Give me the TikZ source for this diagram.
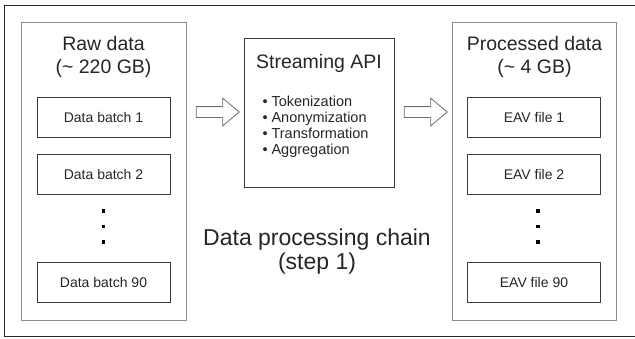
\documentclass[tikz,border=0pt]{standalone}
\usepackage{fontspec}
\setmainfont{Liberation Sans}
\usetikzlibrary{
  shapes.arrows,
  positioning
}
\definecolor{panelgray}{HTML}{8C8C8C}
\definecolor{boxgray}{HTML}{3C3C3C}
\definecolor{arrowgray}{HTML}{6E6E6E}
\definecolor{inkgray}{HTML}{262626}

\begin{document}
\begin{tikzpicture}[
      x=1pt,y=-1pt,
      panel/.style={
         rectangle,
         draw=panelgray,
         line width=1pt,
         minimum width=165pt,
         minimum height=298pt
      },
      batch/.style={
         rectangle,
         draw=boxgray,
         line width=0.9pt,
         minimum width=133pt,
         minimum height=40pt,
         text=inkgray,
         font=\fontsize{14}{16}\selectfont
      },
      apibox/.style={
         rectangle,
         draw=boxgray,
         line width=0.9pt,
         minimum width=150pt,
         minimum height=149pt
      },
      title/.style={
         align=center,
         text=inkgray,
         font=\fontsize{19.5}{23}\selectfont
      },
      flow/.style={
         single arrow,
         draw=arrowgray,
         line width=0.8pt,
         inner xsep=0pt,
         inner ysep=5pt,
         minimum height=43pt,
         single arrow head extend=8.5pt,
         single arrow tip angle=80
      },
      vdot/.style={
         rectangle,
         fill=black,
         inner sep=0pt,
         minimum size=3.5pt
      }
    ]
    \useasboundingbox (0,0) rectangle (635,338);
    % outer frame, open on the right
    \draw[line width=1pt, black!85] (635,5) -- (4,5) -- (4,336) -- (635,336);

    % left panel
    \node (rawpanel) [panel] at (103.5,171) {};
    \node (rawtitle) [title] at (103.5,56.5) {Raw data\\(\textasciitilde{} 220 GB)};
    \node (batch1) [batch] at (103.5,117) {Data batch 1};
    \node (batch2) [batch] at (103.5,174.5) {Data batch 2};
    \node (batch90) [batch] at (103.5,282.5) {Data batch 90};
    \foreach \y [count=\i] in {211,226.5,242}
       \node (rawdot\i) [vdot] at (103.5,\y) {};

    % middle box
    \node (api) [apibox] at (319,112.5) {};
    \node (apititle) [title] at (319,63) {Streaming API};
    \node (apilist) [anchor=west, align=left, text=inkgray,
       font=\fontsize{14.5}{16}\selectfont] at (259,127) {%
       \makebox[9pt][l]{\textbullet}Tokenization\\
       \makebox[9pt][l]{\textbullet}Anonymization\\
       \makebox[9pt][l]{\textbullet}Transformation\\
       \makebox[9pt][l]{\textbullet}Aggregation};

    % right panel
    \node (procpanel) [panel, minimum width=164pt] at (534.5,171) {};
    \node (proctitle) [title] at (534.5,56.5) {Processed data\\(\textasciitilde{} 4 GB)};
    \node (eav1) [batch] at (534,117) {EAV file 1};
    \node (eav2) [batch] at (534,174.5) {EAV file 2};
    \node (eav90) [batch] at (534,282.5) {EAV file 90};
    \foreach \y [count=\i] in {211,226.5,242}
       \node (procdot\i) [vdot] at (538,\y) {};

    % arrows between the stages
    \node (flow1) [flow] at (214.5,112) {};
    \node (flow2) [flow] at (422.5,112) {};

    % caption
    \node (chain) [title, font=\fontsize{23}{24}\selectfont] at (317,252)
       {Data processing chain\\(step 1)};
\end{tikzpicture}
\end{document}
